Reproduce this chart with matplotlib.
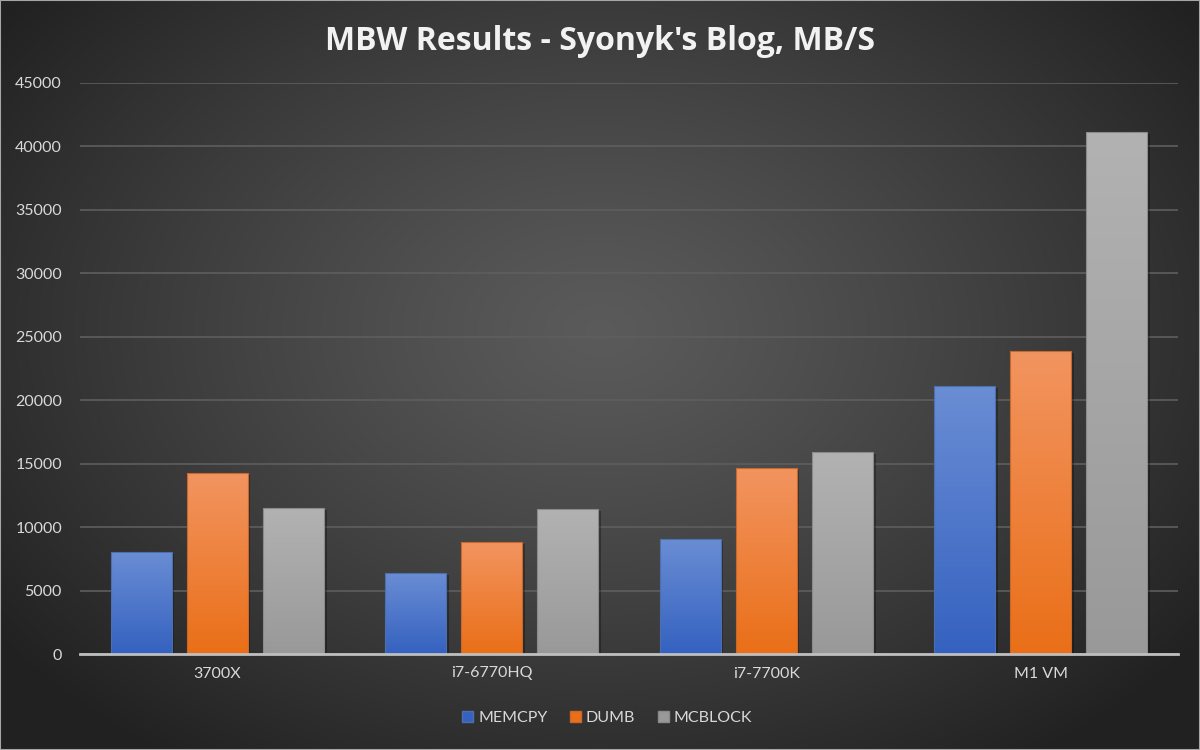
import matplotlib.pyplot as plt
import numpy as np
from matplotlib.patches import Rectangle
from matplotlib.colors import to_rgb
import matplotlib.patheffects as pe

### Data
categories = ['3700X', 'i7-6770HQ', 'i7-7700K', 'M1 VM']
memcpy = [8050, 6400, 9070, 21150]
dumb = [14290, 8850, 14660, 23850]
mcblock = [11510, 11430, 15920, 41140]
series_names = ['MEMCPY', 'DUMB', 'MCBLOCK']
yticks = np.arange(0, 45001, 5000)

# top / bottom colours of the bar gradients
grad_colors = [('#6a8dd4', '#3562c0'),
               ('#f29460', '#ea6f18'),
               ('#b2b2b2', '#999999')]
edge_colors = ['#4c6fae', '#c8682a', '#8a8a8a']
text_color = '#d9d9d9'

plt.rcParams['font.family'] = ['Lato', 'DejaVu Sans']

fig = plt.figure(figsize=(12, 7.5), dpi=100)

# radial gradient background
bg_ax = fig.add_axes([0, 0, 1, 1], zorder=-10)
yy, xx = np.mgrid[0:750, 0:1200]
r = np.sqrt(((xx - 600) / 600.0) ** 2 + ((yy - 330) / 420.0) ** 2)
r = np.clip(r / 1.25, 0, 1)
shade = 0.355 - (0.355 - 0.13) * r ** 1.2
bg_ax.imshow(np.dstack([shade, shade, shade]), aspect='auto', extent=[0, 1, 0, 1])
bg_ax.set_axis_off()
fig.patches.append(Rectangle((0, 0), 1, 1, transform=fig.transFigure, fill=False,
                             edgecolor='#a6a6a6', linewidth=1.5))

ax = fig.add_axes([80 / 1200, 1 - 654 / 750, (1178 - 80) / 1200, (654 - 83) / 750])
ax.set_facecolor('none')

x = np.arange(len(categories))
width = 0.222
step = 0.277
all_series = [memcpy, dumb, mcblock]

for k, vals in enumerate(all_series):
    pos = x + (k - 1) * step
    # base bars carry the shadow
    bars = ax.bar(pos, vals, width, color=grad_colors[k][1], linewidth=0, zorder=2,
                  path_effects=[pe.SimplePatchShadow(offset=(2, -1.5), shadow_rgbFace='black', alpha=0.3),
                                pe.Normal()])
    top = np.array(to_rgb(grad_colors[k][0]))
    bot = np.array(to_rgb(grad_colors[k][1]))
    t = np.linspace(0, 1, 64)[:, None]
    grad = (top * (1 - t) + bot * t)[:, None, :]
    for b in bars:
        im = ax.imshow(grad, extent=[b.get_x(), b.get_x() + b.get_width(), 0, b.get_height()],
                       aspect='auto', zorder=2.5, interpolation='bilinear')
        im.set_clip_path(b)
    # thin outline on top
    ax.bar(pos, vals, width, color='none', edgecolor=edge_colors[k], linewidth=0.8, zorder=3)

ax.set_xlim(-0.5, len(categories) - 0.5)
ax.set_ylim(0, 45000)
ax.set_yticks(yticks)
ax.set_xticks(x)
ax.set_xticklabels(categories)
ax.yaxis.grid(True, color='#5e5e5e', linewidth=1.2, zorder=0)
ax.set_axisbelow(True)
for s in ['top', 'right', 'left']:
    ax.spines[s].set_visible(False)
ax.spines['bottom'].set_color('#bfbfbf')
ax.spines['bottom'].set_linewidth(2)
ax.spines['bottom'].set_zorder(4)
ax.tick_params(axis='both', length=0, colors=text_color, labelsize=11.5)
ax.tick_params(axis='y', pad=13)
ax.tick_params(axis='x', pad=9)

fig.text(0.5, 1 - 41 / 750, "MBW Results - Syonyk's Blog, MB/S", ha='center', va='center',
         color='#f2f2f2', fontsize=23, fontweight='bold', family=['Open Sans', 'DejaVu Sans'])

handles = [Rectangle((0, 0), 1, 1, facecolor=grad_colors[k][1], edgecolor=edge_colors[k]) for k in range(3)]
leg = fig.legend(handles, series_names, loc='center', bbox_to_anchor=(0.506, 1 - 718 / 750), ncol=3,
                 frameon=False, fontsize=11.5, handlelength=0.7, handleheight=0.7, handletextpad=0.3,
                 columnspacing=1.4)
for txt in leg.get_texts():
    txt.set_color(text_color)

fig.savefig('out.png', dpi=100)
